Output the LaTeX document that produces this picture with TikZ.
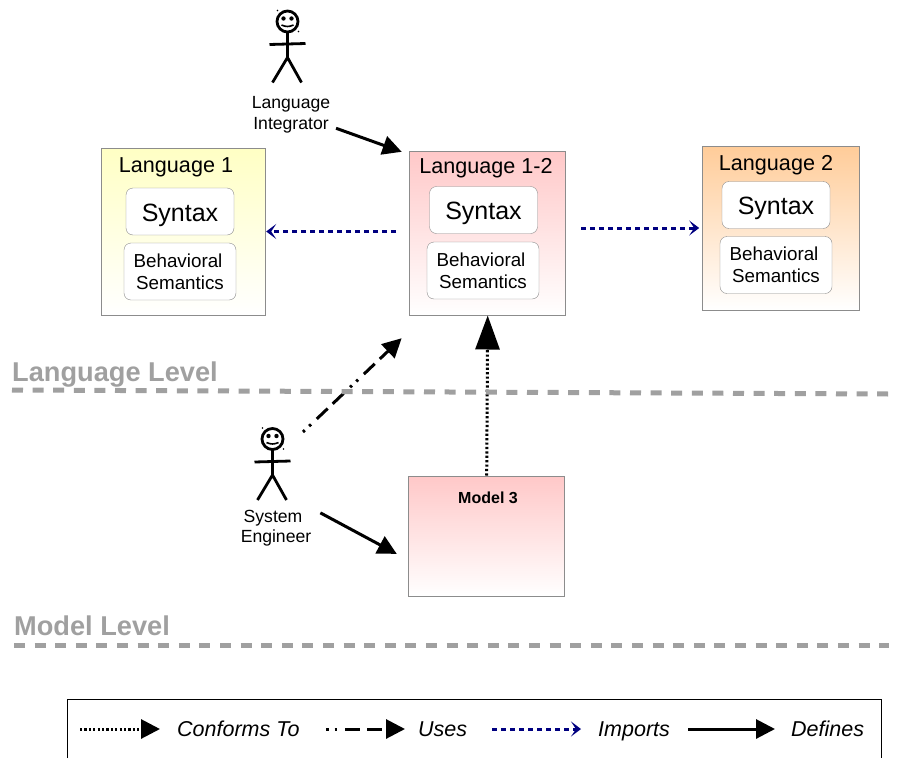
\documentclass[tikz,border=0pt]{standalone}
\usepackage{fontspec}
\setmainfont{Liberation Sans}
\usetikzlibrary{arrows.meta,positioning}

\definecolor{langyellow}{RGB}{255,255,196}
\definecolor{langpink}{RGB}{255,200,200}
\definecolor{langorange}{RGB}{255,204,153}
\definecolor{levelgray}{RGB}{160,160,160}
\definecolor{importblue}{RGB}{0,0,128}

\newcommand{\behaviortext}{Behavioral\hspace*{4pt}\\Semantics}

\tikzset{
  langbox/.style={draw=black!45, line width=1pt, bottom color=white, minimum width=#1, inner sep=0pt},
  syntaxbox/.style={draw=black!45, rounded corners=7pt, fill=white, minimum width=108pt, minimum height=47pt, font=\fontsize{25}{28}\selectfont, inner sep=0pt, text depth=0pt, text height=19pt},
  behaviorbox/.style={draw=black!45, rounded corners=7pt, fill=white, minimum width=112pt, minimum height=57pt, align=center, font=\fontsize{18.8}{22}\selectfont, inner sep=0pt},
  langtitle/.style={font=\fontsize{21.6}{24}\selectfont, inner sep=0pt},
  actorlabel/.style={align=center, font=\fontsize{17.6}{20.5}\selectfont, inner sep=1pt},
  levellabel/.style={text=levelgray, font=\fontsize{27.2}{30}\selectfont\bfseries, inner sep=0pt, anchor=west},
  levelline/.style={draw=levelgray, line width=5pt, dash pattern=on 11pt off 9.6pt},
  legendlabel/.style={font=\fontsize{21.5}{24}\selectfont\itshape, inner sep=0pt, text depth=0pt, text height=15pt},
  defines/.style={draw=black, line width=3pt, -{Triangle[length=19pt,width=19pt]}},
  conforms/.style={draw=black, line width=3pt, dash pattern=on 2.2pt off 2.2pt, -{Triangle[length=19pt,width=19pt]}},
  uses/.style={draw=black, line width=3pt, dash pattern=on 2.5pt off 6pt on 2.5pt off 8pt on 15pt off 7pt on 15pt off 9pt, -{Triangle[length=19pt,width=19pt]}},
  imports/.style={draw=importblue, line width=3pt, dash pattern=on 5pt off 4pt, -{Stealth[length=10pt,width=15pt,inset=5pt]}},
  pics/stickman/.style={code={
    \draw[line width=2.8pt] (0,0) circle (10.5);
    \draw[line width=2.8pt] (0,10.5) -- (0,36) (-18,23) -- (18,22);
    \draw[line width=2.8pt] (-15,61) -- (0,36) -- (14,61);
    \fill (-4,-3) circle (2.2) (4,-3) circle (2.2);
    \draw[line width=1.6pt] (-6,3.5) to[bend right=25] (6,3.5);
    \fill (-10,-11) circle (.8) (11,10) circle (.8);
  }}
}

\begin{document}
\begin{tikzpicture}[x=1pt,y=-1pt]
\useasboundingbox (0,0) rectangle (897,758);

\node[langbox=164pt, top color=langyellow, minimum height=167pt] (LangOne) at (183.7,231.5) {};
\node[langbox=156pt, top color=langpink, minimum height=164pt] (LangOneTwo) at (487.7,233) {};
\node[langbox=157pt, top color=langorange, minimum height=164pt] (LangTwo) at (781.2,228) {};
\node[langbox=156pt, top color=langpink, minimum height=120pt] (ModelThree) at (486.7,536) {};
%============
\node[langtitle] (LangOneTitle) at (176,167) {Language 1};
\node[langtitle] (LangOneTwoTitle) at (486,168) {Language 1-2};
\node[langtitle] (LangTwoTitle) at (776,165) {Language 2};
\node[font=\fontsize{16}{18}\selectfont\bfseries, inner sep=0pt] (ModelThreeTitle) at (488,498) {Model 3};
%============
\node[syntaxbox] (SyntaxOne) at (180,211.5) {Syntax};
\node[behaviorbox] (BehaviorOne) at (180,271.5) {\behaviortext};
\node[syntaxbox] (SyntaxOneTwo) at (483.5,210) {Syntax};
\node[behaviorbox] (BehaviorOneTwo) at (483,270.5) {\behaviortext};
\node[syntaxbox] (SyntaxTwo) at (776,205) {Syntax};
\node[behaviorbox] (BehaviorTwo) at (776,265) {\behaviortext};
%============
\pic at (287.5,21.5) {stickman};
\pic at (272.5,439) {stickman};
\node[actorlabel] (Integrator) at (291,115) {Language\\Integrator};
\node[actorlabel] (Engineer) at (276,528) {System\hspace*{6pt}\\Engineer};
\coordinate (UsesTail) at (303,432);
%============
\draw[defines, shorten <=5pt, shorten >=8pt] (Integrator.-16) -- (LangOneTwo.135);
\draw[defines, shorten <=9pt, shorten >=13pt] (Engineer.north east) -- (ModelThree.197);
\draw[uses, shorten >=33pt] (UsesTail) -- (LangOneTwo.233);
\draw[conforms, -{Triangle[length=34pt,width=24pt]}] (ModelThree.north) -- (LangOneTwo.south);
\draw[imports, shorten <=13pt] (LangOneTwo.west |- LangOne) -- (LangOne.east);
\draw[imports, shorten <=15pt, shorten >=3pt] (LangOneTwo.east |- LangTwo) -- (LangTwo.west);
%============
\node[levellabel] (LanguageLevel) at (12,375) {Language Level};
\node[levellabel] (ModelLevel) at (14,626) {Model Level};
\coordinate (LevelOneStart) at (12,390);
\coordinate (LevelOneEnd) at (889,394);
\coordinate (LevelTwoStart) at (14,645);
\coordinate (LevelTwoEnd) at (889,645);
\draw[levelline] (LevelOneStart) -- (LevelOneEnd);
\draw[levelline] (LevelTwoStart) -- (LevelTwoEnd);
%============
\draw[line width=1pt] (67,758) -- (67,699.5) -- (881,699.5) -- (881,758);
\node[legendlabel, anchor=west] (ConformsTo) at (177,729) {Conforms To};
\node[legendlabel, anchor=west] (Uses) at (418,729) {Uses};
\node[legendlabel, anchor=west] (Imports) at (598,729) {Imports};
\node[legendlabel, anchor=west] (Defines) at (791,729) {Defines};
\coordinate (ConformsStart) at (80,729);
\coordinate (UsesStart) at (326,729);
\coordinate (ImportsStart) at (492,729);
\coordinate (DefinesStart) at (688,729);
\draw[conforms, shorten >=17pt] (ConformsStart) -- (ConformsTo.west);
\draw[uses, shorten >=13pt] (UsesStart) -- (Uses.west);
\draw[imports, shorten >=17pt] (ImportsStart) -- (Imports.west);
\draw[defines, shorten >=16pt] (DefinesStart) -- (Defines.west);
\end{tikzpicture}
\end{document}
